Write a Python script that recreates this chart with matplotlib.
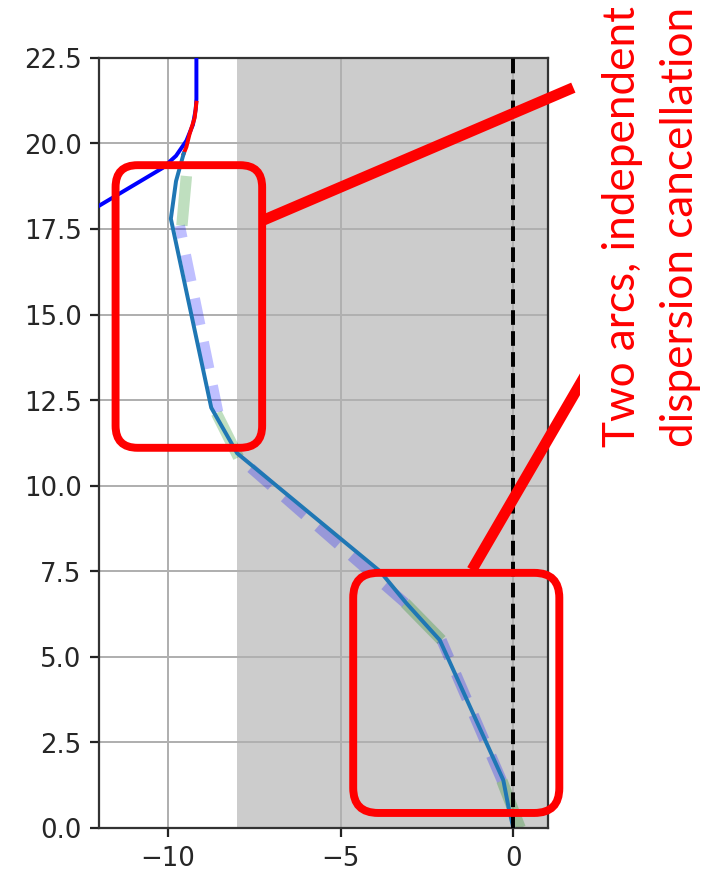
import matplotlib
matplotlib.use("Agg")
import matplotlib.pyplot as plt
from matplotlib.patches import FancyBboxPatch
from matplotlib.lines import Line2D
from matplotlib.transforms import Affine2D, Bbox

# Reference trajectory through the two-arc section
path_x = [0.0, -0.14, -0.29, -2.13, -3.10, -3.86, -8.00, -8.75, -9.92, -9.77, -9.55]
path_y = [0.0, 0.62, 1.40, 5.49, 6.57, 7.50, 10.95, 12.28, 17.80, 18.90, 19.70]

# Incoming beam line and the matching curve joining it
beam_x = [-12.0, -10.15, -9.77, -9.47, -9.28, -9.20, -9.18, -9.18]
beam_y = [18.18, 19.29, 19.64, 20.08, 20.55, 21.00, 21.30, 22.50]
match_x = [-9.55, -9.47, -9.38, -9.23, -9.18]
match_y = [19.70, 19.90, 20.27, 20.75, 21.19]

# Idealised layout: arcs and drifts as (x0, y0, x1, y1)
arc_segments = [
    (0.20, 0.00, -0.33, 1.38),
    (-2.08, 5.49, -3.13, 6.57),
    (-7.96, 10.83, -8.60, 12.12),
    (-9.60, 17.60, -9.47, 19.05),
]
drift_segments = [
    (-0.33, 1.38, -2.08, 5.49),
    (-3.13, 6.57, -7.96, 10.83),
    (-8.55, 12.15, -9.66, 17.60),
]

shade_x = (-8, 1)
x_ticks = [-10, -5, 0]
y_ticks = [0, 2.5, 5, 7.5, 10, 12.5, 15, 17.5, 20, 22.5]
note_lines = ["Two arcs, independent", "dispersion cancellation"]

W, H = 703, 882
DPI = 178
fig = plt.figure(figsize=((W + 0.4) / DPI, (H + 0.4) / DPI), dpi=DPI)
fig.patch.set_facecolor("white")

ax = fig.add_axes([99 / W, 54 / H, 448.5 / W, 769.7 / H])
ax.axvspan(*shade_x, color="#cccccc", lw=0, zorder=0)
ax.grid(True, color="#b0b0b0", lw=0.8)

for x0, y0, x1, y1 in drift_segments:
    ax.plot([x0, x1], [y0, y1], color="b", alpha=0.25, lw=4.2,
            dashes=(11 / 4.2, 7 / 4.2), solid_capstyle="butt",
            dash_capstyle="butt", zorder=2)
for x0, y0, x1, y1 in arc_segments:
    ax.plot([x0, x1], [y0, y1], color="g", alpha=0.25, lw=4.6,
            solid_capstyle="butt", zorder=2)

ax.plot(beam_x, beam_y, color="b", lw=1.6, zorder=3)
ax.plot(match_x, match_y, color="r", lw=1.6, zorder=3)
ax.plot(path_x, path_y, color="C0", lw=1.6, zorder=4)
ax.axvline(0, color="k", ls="--", lw=1.6, zorder=5)

ax.set_xlim(-12, 1)
ax.set_ylim(0, 22.5)
ax.set_xticks(x_ticks)
ax.set_yticks(y_ticks)
ax.tick_params(labelsize=10.5, length=3.6, width=0.9, colors="#222222",
               labelcolor="#262626")
for sp in ax.spines.values():
    sp.set_linewidth(0.9)
    sp.set_color("#333333")

# Overlay drawn in figure pixel coordinates (origin top-left)
pix = Affine2D().scale(1 / W, -1 / H).translate(0, 1) + fig.transFigure

for (bx0, by0, bx1, by1, r) in [(115.5, 165.5, 262, 448, 22),
                                (353, 573, 559, 813, 25)]:
    box = FancyBboxPatch((bx0, by0), bx1 - bx0, by1 - by0,
                         boxstyle=f"round,pad=0,rounding_size={r}",
                         transform=pix, fill=False, ec="#ff0000", lw=3.2,
                         clip_on=False, zorder=10)
    fig.add_artist(box)

clip = Bbox([[0, 0], [580 * (W + 0.4) / W, H + 1]])
for (lx0, ly0, lx1, ly1) in [(262, 221, 573, 88), (471.7, 570, 598, 353)]:
    ln = Line2D([lx0, lx1], [ly0, ly1], transform=pix, color="#ff0000",
                lw=4.4, solid_capstyle="butt", zorder=11)
    fig.add_artist(ln)
    ln.set_clip_box(clip)

# Vertical note, sized so the first line runs from y=447 up to y=5
notes = []
for txt, bx in zip(note_lines, [635, 693]):
    notes.append(fig.text(bx / W, 1 - 447 / H, txt, rotation=90,
                          rotation_mode="anchor", ha="left", va="baseline",
                          color="#ff0000", fontsize=19,
                          family=["Lato", "DejaVu Sans"]))
renderer = fig.canvas.get_renderer()
span = notes[0].get_window_extent(renderer).height
for t in notes:
    t.set_fontsize(19 * 442 / span)

fig.savefig("out.png", dpi=DPI, facecolor="white")
